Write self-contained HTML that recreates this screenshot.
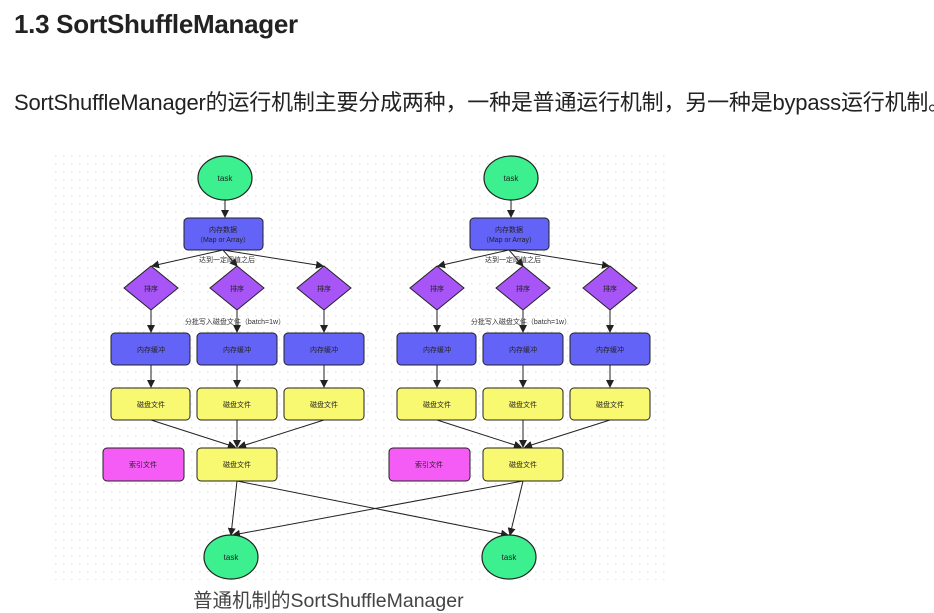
<!DOCTYPE html>
<html><head><meta charset="utf-8"><style>
html,body{margin:0;padding:0;background:#fff;width:934px;height:611px;overflow:hidden}
.h{position:absolute;left:14px;top:9px;font:bold 26px "Liberation Sans","Noto Sans CJK SC",sans-serif;color:#222;white-space:nowrap;letter-spacing:-0.3px}
.p{position:absolute;left:14px;top:85px;font:22px "Liberation Sans","Noto Sans CJK SC",sans-serif;color:#222;white-space:nowrap;letter-spacing:-0.2px}
.c{position:absolute;left:193px;top:584px;font:19.5px "Liberation Sans","Noto Sans CJK SC",sans-serif;color:#444;white-space:nowrap}
svg{position:absolute;left:0;top:0}
</style></head><body>
<div class="h">1.3 SortShuffleManager</div>
<div class="p">SortShuffleManager的运行机制主要分成两种，一种是普通运行机制，另一种是bypass运行机制。</div>
<svg width="934" height="611" viewBox="0 0 934 611" font-family="Liberation Sans,Noto Sans CJK SC,sans-serif">
<defs>
<pattern id="d" x="55" y="155" width="8" height="8" patternUnits="userSpaceOnUse"><rect width="1.5" height="1.5" fill="#e6e6e6"/></pattern>
<marker id="a" markerWidth="8" markerHeight="8" refX="7" refY="4" orient="auto" markerUnits="userSpaceOnUse"><path d="M0,0L8,4L0,8z" fill="#222"/></marker>
<g id="dg">
<line x1="225" y1="200" x2="225" y2="217" stroke="#222" marker-end="url(#a)"/>
<ellipse cx="225" cy="178" rx="27" ry="22" fill="#3df08f" stroke="#222" stroke-width="1.2"/>
<text x="225" y="181" font-size="8" text-anchor="middle" fill="#222">task</text>
<rect x="184" y="218" width="79" height="32" rx="4" fill="#6463f7" stroke="#222"/>
<text x="223" y="232" font-size="7" text-anchor="middle" fill="#222">内存数据</text>
<text x="223" y="242" font-size="7" text-anchor="middle" fill="#222">（Map or Array）</text>
<line x1="223" y1="250" x2="152" y2="266" stroke="#222" marker-end="url(#a)"/>
<line x1="223" y1="250" x2="237" y2="266" stroke="#222" marker-end="url(#a)"/>
<line x1="223" y1="250" x2="323" y2="266" stroke="#222" marker-end="url(#a)"/>
<text x="227" y="262" font-size="7" text-anchor="middle" fill="#333">达到一定阈值之后</text>
<g fill="#a855f7" stroke="#222">
<path d="M151,266L178,288L151,310L124,288z"/>
<path d="M237,266L264,288L237,310L210,288z"/>
<path d="M324,266L351,288L324,310L297,288z"/>
</g>
<g font-size="7" text-anchor="middle" fill="#222"><text x="151" y="291">排序</text><text x="237" y="291">排序</text><text x="324" y="291">排序</text></g>
<g stroke="#222" marker-end="url(#a)">
<line x1="151" y1="310" x2="151" y2="332"/><line x1="237" y1="310" x2="237" y2="332"/><line x1="324" y1="310" x2="324" y2="332"/>
<line x1="151" y1="365" x2="151" y2="387"/><line x1="237" y1="365" x2="237" y2="387"/><line x1="324" y1="365" x2="324" y2="387"/>
<line x1="151" y1="420" x2="235" y2="447"/><line x1="237" y1="420" x2="237" y2="447"/><line x1="324" y1="420" x2="239" y2="447"/>
</g>
<text x="235" y="324" font-size="7" text-anchor="middle" fill="#333">分批写入磁盘文件（batch=1w）</text>
<g fill="#6463f7" stroke="#222">
<rect x="111" y="333" width="79" height="32" rx="4"/><rect x="197" y="333" width="80" height="32" rx="4"/><rect x="284" y="333" width="80" height="32" rx="4"/>
</g>
<g fill="#f9f871" stroke="#222">
<rect x="111" y="388" width="79" height="32" rx="4"/><rect x="197" y="388" width="80" height="32" rx="4"/><rect x="284" y="388" width="80" height="32" rx="4"/>
<rect x="197" y="448" width="80" height="33" rx="4"/>
</g>
<rect x="103" y="448" width="81" height="33" rx="4" fill="#f55cf5" stroke="#222"/>
<g font-size="7" text-anchor="middle" fill="#222">
<text x="151" y="352">内存缓冲</text><text x="237" y="352">内存缓冲</text><text x="324" y="352">内存缓冲</text>
<text x="151" y="407">磁盘文件</text><text x="237" y="407">磁盘文件</text><text x="324" y="407">磁盘文件</text>
<text x="237" y="467">磁盘文件</text><text x="143" y="467">索引文件</text>
</g>
</g>
</defs>
<rect x="55" y="155" width="612" height="425" fill="url(#d)"/>
<use href="#dg"/>
<use href="#dg" transform="translate(286,0)"/>
<g stroke="#222" marker-end="url(#a)">
<line x1="237" y1="481" x2="231" y2="535"/>
<line x1="237" y1="481" x2="508" y2="535"/>
<line x1="523" y1="481" x2="233" y2="535"/>
<line x1="523" y1="481" x2="510" y2="535"/>
</g>
<ellipse cx="231" cy="557" rx="27" ry="22" fill="#3df08f" stroke="#222" stroke-width="1.2"/>
<ellipse cx="509" cy="557" rx="27" ry="22" fill="#3df08f" stroke="#222" stroke-width="1.2"/>
<g font-size="8" text-anchor="middle" fill="#222"><text x="231" y="560">task</text><text x="509" y="560">task</text></g>
</svg>
<div class="c">普通机制的SortShuffleManager</div>
</body></html>
